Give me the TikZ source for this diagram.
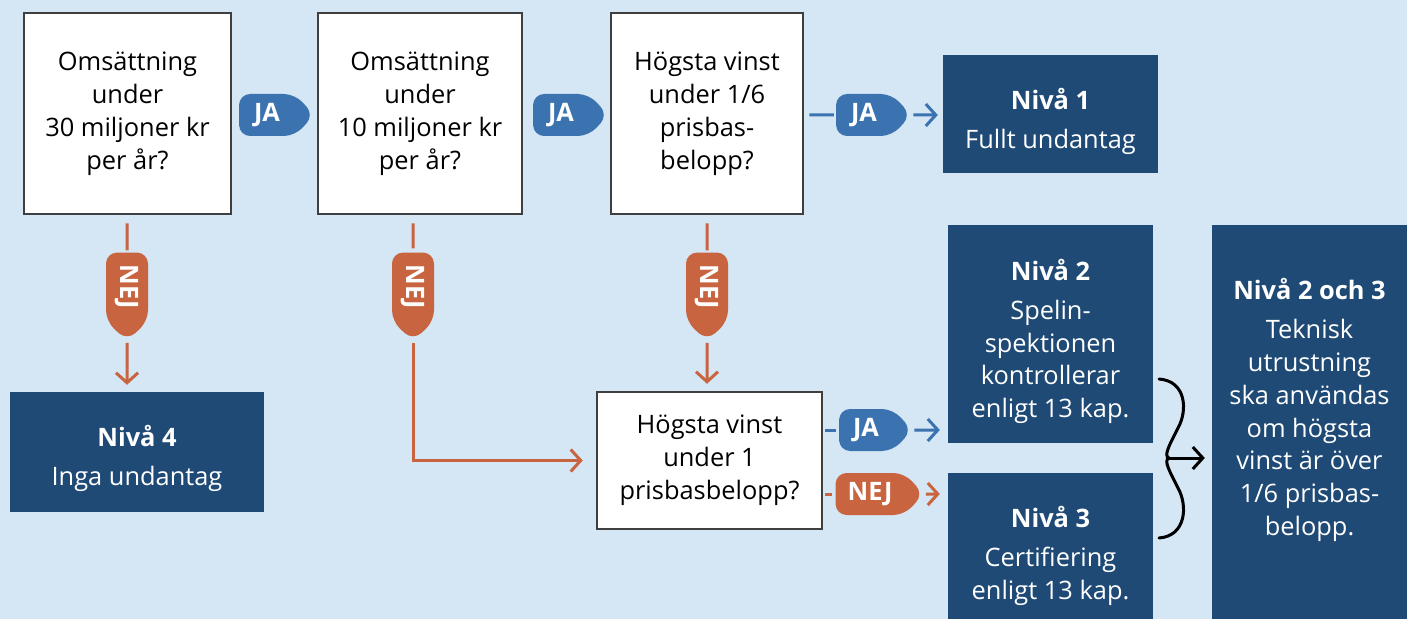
\documentclass[tikz,border=0pt]{standalone}
\usepackage{fontspec}
\setmainfont{Open Sans}
\usetikzlibrary{arrows.meta,shapes.symbols}
\definecolor{bgblue}{HTML}{D5E6F5}
\definecolor{boxblue}{HTML}{1F4A75}
\definecolor{tagblue}{HTML}{3B73B0}
\definecolor{tagorange}{HTML}{C8643F}
\definecolor{boxline}{HTML}{3F3F3F}
\tikzstyle{every node}=[font=\fontsize{25.5}{33}\selectfont]
\tikzstyle{question}=[draw=boxline,line width=2.5bp,fill=white,align=center,inner sep=0pt]
\tikzstyle{levelbox}=[fill=boxblue,inner sep=0pt]
\tikzstyle{leveltext}=[text=white,align=center,inner sep=0pt]
\tikzstyle{tag}=[signal,signal to=east,signal pointer angle=95,rounded corners=11bp,text=white,font=\fontsize{25.5}{30}\selectfont\bfseries,minimum height=42bp,inner sep=0pt]
\tikzstyle{jatag}=[tag,fill=tagblue,minimum width=75bp]
\tikzstyle{nejtag}=[tag,fill=tagorange,minimum width=88bp]
\tikzstyle{jaline}=[draw=tagblue,line width=3bp,-{Straight Barb[length=10bp,width=22bp]}]
\tikzstyle{nejline}=[draw=tagorange,line width=3bp,-{Straight Barb[length=10bp,width=22bp]}]

\begin{document}
\begin{tikzpicture}[x=1bp,y=-1bp]
      \fill[bgblue] (0,0) rectangle (1407,619);
      \useasboundingbox (0,0) rectangle (1407,619);
      % questions
      \node[question,minimum width=207bp,minimum height=201bp] (qa) at (127.5,113.5) {Omsättning\\under\\30 miljoner kr\\per år?};
      \node[question,minimum width=204bp,minimum height=201bp] (qb) at (420,113.5) {Omsättning\\under\\10 miljoner kr\\per år?};
      \node[question,minimum width=192bp,minimum height=201bp] (qc) at (707,113.5) {Högsta vinst\\under 1/6\\prisbas-\\belopp?};
      \node[question,minimum width=225bp,minimum height=137bp] (qd) at (709.5,460.5) {Högsta vinst\\under 1\\prisbasbelopp?};
      % levels
      \node[levelbox,minimum width=215bp,minimum height=118bp] (niva1) at (1050.5,114) {};
      \node[levelbox,minimum width=254bp,minimum height=120bp] (niva4) at (137,452) {};
      \node[levelbox,minimum width=205bp,minimum height=218bp] (niva2) at (1050.5,334) {};
      \node[levelbox,minimum width=205bp,minimum height=146bp] (niva3) at (1050.5,546) {};
      \node[levelbox,minimum width=195bp,minimum height=394bp] (niva23) at (1309.5,422) {};
      \node[leveltext] (t1) at (1050.5,121) {\textbf{Nivå 1}\\[6bp]Fullt undantag};
      \node[leveltext] (t4) at (137,458) {\textbf{Nivå 4}\\[6bp]Inga undantag};
      \node[leveltext] (t2) at (1050.5,341.5) {\textbf{Nivå 2}\\[6bp]Spelin-\\spektionen\\kontrollerar\\enligt 13 kap.};
      \node[leveltext] (t3) at (1050.5,556) {\textbf{Nivå 3}\\[6bp]Certifiering\\enligt 13 kap.};
      \node[leveltext] (t23) at (1309.5,410) {\textbf{Nivå 2 och 3}\\[6bp]Teknisk\\utrustning\\ska användas\\om högsta\\vinst är över\\1/6 prisbas-\\belopp.};
      % tags
      \node[jatag] (ja1) at (267,115) {JA};
      \node[jatag] (ja2) at (561,115) {JA};
      \node[jatag] (ja3) at (864,115) {JA};
      \node[jatag,minimum width=73bp] (ja4) at (866,430) {JA};
      \node[nejtag,minimum width=88bp] (nej4) at (870,494) {NEJ};
      \node[nejtag,rotate=-90] (nej1) at (127,287) {NEJ};
      \node[nejtag,rotate=-90] (nej2) at (413,287) {NEJ};
      \node[nejtag,rotate=-90] (nej3) at (707,287) {NEJ};
      % connectors
      \draw[jaline,-,shorten <=5bp,shorten >=2bp] (qc.east |- ja3) -- (ja3);
      \draw[jaline,shorten <=2bp,shorten >=5bp] (ja3) -- (niva1.west |- ja3);
      \draw[jaline,-,shorten <=2bp] (qd.east |- ja4) -- ([xshift=-3bp]ja4.west);
      \draw[jaline,shorten <=2bp,shorten >=8bp] (ja4) -- (niva2.west |- ja4);
      \draw[nejline,-,shorten <=2bp] (qd.east |- nej4) -- ([xshift=-3bp]nej4.west);
      \draw[nejline,shorten <=2bp,shorten >=8bp] (nej4) -- (niva3.west |- nej4);
      \draw[nejline,-,shorten <=8bp,shorten >=2bp] (nej1 |- qa.south) -- (nej1);
      \draw[nejline,shorten <=2bp,shorten >=7bp] (nej1) -- (nej1 |- niva4.north);
      \draw[nejline,-,shorten <=8bp,shorten >=4bp] (nej2 |- qb.south) -- (nej2);
      \draw[nejline,shorten <=2bp,shorten >=13bp] (nej2) |- (qd.west);
      \draw[nejline,-,shorten <=8bp,shorten >=2bp] (nej3 |- qc.south) -- (nej3);
      \draw[nejline,shorten <=2bp,shorten >=7bp] (nej3) -- (nej3 |- qd.north);
      % brace
      \coordinate (bracetip) at (1169,458);
      \draw[line width=3bp,line cap=round] (1159,379) .. controls (1186,381) and (1188,410) .. (1178,428) .. controls (1170,444) and (1163,456) .. (bracetip) .. controls (1163,460) and (1170,472) .. (1178,488) .. controls (1188,506) and (1186,536) .. (1159,538);
      \draw[line width=3bp,-{Straight Barb[length=10bp,width=22bp]},shorten >=7bp] (bracetip) -- (niva23.west |- bracetip);
    \end{tikzpicture}
\end{document}
